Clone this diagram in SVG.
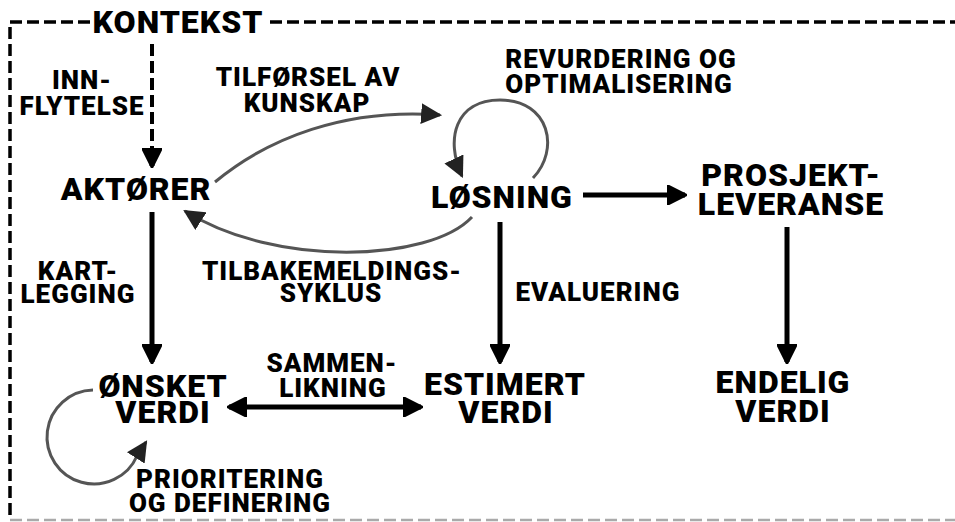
<svg xmlns="http://www.w3.org/2000/svg" width="955" height="522" viewBox="0 0 955 522">
  <style>
    text { font-family: Roboto, "Liberation Sans", sans-serif; font-weight: 900; fill: #000; text-anchor: middle; letter-spacing: 1px; }
    .node { font-size: 32px; }
    .lbl { font-size: 26px; }
    .frame { fill: none; stroke: #000; stroke-width: 3.5; stroke-dasharray: 12 5; }
    .solid { fill: none; stroke: #000; stroke-width: 5; }
    .soft { fill: none; stroke: #555; stroke-width: 3; }
  </style>
  <defs>
    <marker id="head" viewBox="0 0 10 10" refX="9" refY="5" markerWidth="4" markerHeight="4" orient="auto-start-reverse" markerUnits="strokeWidth">
      <path d="M0,0 L10,5 L0,10 Z" fill="#000" stroke="#000" stroke-width="1" stroke-linejoin="round"/>
    </marker>
    <marker id="grayhead" viewBox="0 0 10 10" refX="9" refY="5" markerWidth="7" markerHeight="7" orient="auto" markerUnits="strokeWidth">
      <path d="M0,0 L10,5 L0,10 Z" fill="#222"/>
    </marker>
  </defs>

  <rect width="955" height="522" fill="#fff"/>

  <!-- context frame -->
  <g id="context">
    <path class="frame" d="M90,22 H10 V518"/>
    <path class="frame" d="M270,22 H955"/>
    <path d="M10,520 H955" fill="none" stroke="#aaa" stroke-width="2.5" stroke-dasharray="12 5"/>
    <text class="node" x="178" y="33">KONTEKST</text>
  </g>

  <g id="connectors">
    <!-- context influence (dashed) -->
    <path d="M152,44 V150" fill="none" stroke="#000" stroke-width="4" stroke-dasharray="12 5"/>
    <path class="solid" d="M152,148 V166" marker-end="url(#head)"/>
    <!-- actors -> desired value -->
    <path class="solid" d="M152,212 V362" marker-end="url(#head)"/>
    <!-- solution -> deliverable -->
    <path class="solid" d="M583,195 H685" marker-end="url(#head)"/>
    <!-- deliverable -> final value -->
    <path class="solid" d="M787,227 V362" marker-end="url(#head)"/>
    <!-- solution -> estimated value -->
    <path class="solid" d="M500,222 V362" marker-end="url(#head)"/>
    <!-- comparison (two-way) -->
    <path class="solid" d="M229,407 H421" marker-start="url(#head)" marker-end="url(#head)"/>
    <!-- knowledge transfer -->
    <path class="soft" d="M215,182 C268,138 345,108 440,115" marker-end="url(#grayhead)"/>
    <!-- feedback cycle -->
    <path class="soft" d="M472,217 C430,262 275,268 185,211" marker-end="url(#grayhead)"/>
    <!-- re-evaluation loop -->
    <path class="soft" d="M533,178 C560,150 550,100 500,100 C455,100 445,140 462,176" marker-end="url(#grayhead)"/>
    <!-- prioritisation loop -->
    <path class="soft" d="M93,390 A47,47 0 1 0 137,456 L146,442" marker-end="url(#grayhead)"/>
  </g>

  <g id="aktorer"><text class="node" x="136" y="200">AKTØRER</text></g>
  <g id="losning"><text class="node" x="502" y="208">LØSNING</text></g>
  <g id="prosjektleveranse">
    <text class="node" x="791" y="186">PROSJEKT-</text>
    <text class="node" x="791" y="215">LEVERANSE</text>
  </g>
  <g id="endelig-verdi">
    <text class="node" x="783" y="393">ENDELIG</text>
    <text class="node" x="783" y="422">VERDI</text>
  </g>
  <g id="estimert-verdi">
    <text class="node" x="505" y="395">ESTIMERT</text>
    <text class="node" x="506" y="423">VERDI</text>
  </g>
  <g id="onsket-verdi">
    <text class="node" x="163" y="397">ØNSKET</text>
    <text class="node" x="163" y="423">VERDI</text>
  </g>

  <g id="labels">
    <text class="lbl" x="82" y="89">INN-</text>
    <text class="lbl" x="82" y="115">FLYTELSE</text>
    <text class="lbl" x="308" y="86">TILFØRSEL AV</text>
    <text class="lbl" x="307" y="112">KUNSKAP</text>
    <text class="lbl" x="621" y="68">REVURDERING OG</text>
    <text class="lbl" x="619" y="93">OPTIMALISERING</text>
    <text class="lbl" x="78" y="280">KART-</text>
    <text class="lbl" x="78" y="303">LEGGING</text>
    <text class="lbl" x="332" y="280">TILBAKEMELDINGS-</text>
    <text class="lbl" x="331" y="302">SYKLUS</text>
    <text class="lbl" x="598" y="301">EVALUERING</text>
    <text class="lbl" x="332" y="372">SAMMEN-</text>
    <text class="lbl" x="333" y="397">LIKNING</text>
    <text class="lbl" x="230" y="488">PRIORITERING</text>
    <text class="lbl" x="230" y="512">OG DEFINERING</text>
  </g>
</svg>
